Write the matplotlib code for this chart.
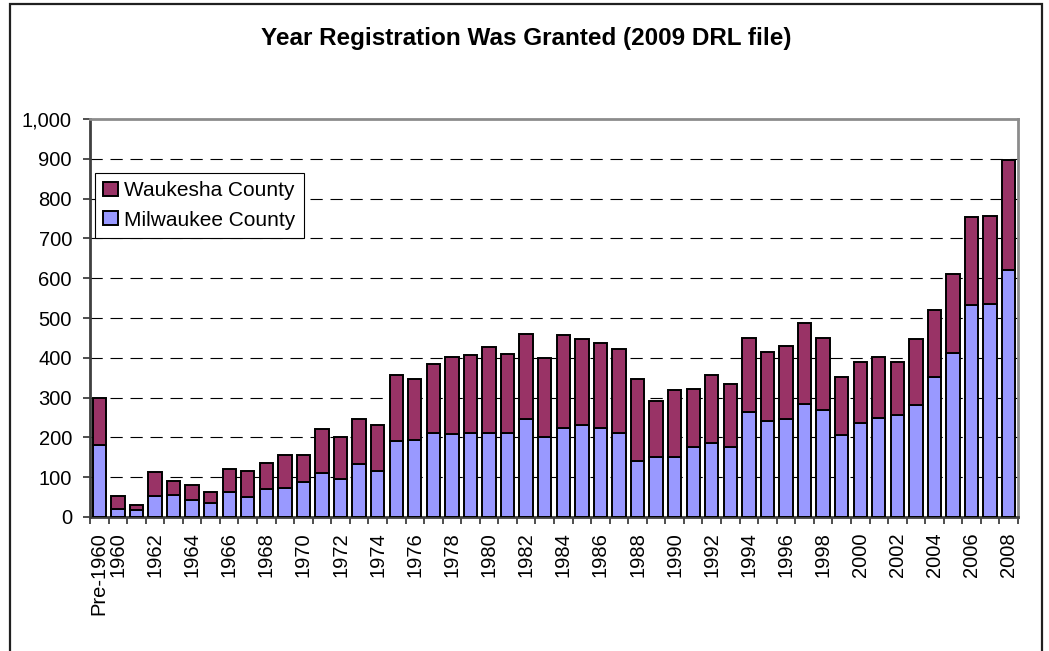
import matplotlib
matplotlib.use("Agg")
import matplotlib.pyplot as plt
from matplotlib.patches import Rectangle
from matplotlib.ticker import FuncFormatter
import numpy as np

plt.rcParams['font.family'] = ['Liberation Sans', 'DejaVu Sans']

categories = ["Pre-1960"] + [str(y) for y in range(1960, 2009)]
milwaukee = [180, 20, 17, 54, 56, 42, 35, 62, 50, 71, 74, 88, 110, 95, 134, 115,
             191, 193, 210, 208, 210, 212, 210, 247, 201, 223, 230, 223, 212, 141,
             150, 152, 175, 185, 175, 265, 240, 245, 284, 269, 206, 236, 250, 256,
             282, 353, 412, 533, 535, 620]
waukesha = [120, 32, 12, 59, 35, 39, 28, 58, 66, 64, 82, 68, 111, 107, 112, 117,
            165, 154, 175, 193, 197, 216, 200, 213, 198, 235, 216, 214, 211, 206,
            141, 168, 146, 171, 159, 186, 175, 184, 203, 182, 146, 154, 151, 134,
            166, 167, 198, 220, 221, 277]
series_names = ["Milwaukee County", "Waukesha County"]
title = "Year Registration Was Granted (2009 DRL file)"
y_ticks = list(range(0, 1001, 100))

W, H = 1049, 651
fig = plt.figure(figsize=(W / 100, H / 100), dpi=100)
ax = fig.add_axes([90 / W, 1 - 517 / H, (1018 - 90) / W, (517 - 119) / H])

x = np.arange(len(categories))
bw = 0.72
b1 = ax.bar(x, milwaukee, bw, color='#9999FF', edgecolor='black', linewidth=1.4,
            label=series_names[0], zorder=3)
b2 = ax.bar(x, waukesha, bw, bottom=milwaukee, color='#993366', edgecolor='black',
            linewidth=1.4, label=series_names[1], zorder=3)

ax.set_xlim(-0.5, len(categories) - 0.5)
ax.set_ylim(0, 1000)
ax.set_yticks(y_ticks)
ax.yaxis.set_major_formatter(FuncFormatter(lambda v, p: f"{int(v):,}"))
for v in y_ticks[1:-1]:
    ax.axhline(v, color='black', lw=0.8, linestyle=(0, (11, 7)), zorder=1)

# x ticks: marks at category boundaries, labels at centres
ax.set_xticks(np.arange(-0.5, len(categories), 1.0))
ax.set_xticklabels([])
lab_pos = [i for i in range(len(categories)) if i == 0 or i % 2 == 1]
ax.set_xticks(lab_pos, minor=True)
ax.set_xticklabels([categories[i] for i in lab_pos], minor=True, rotation=90,
                   fontsize=14.5, va='top', ha='center')
ax.tick_params(axis='x', which='major', length=5, width=1.2, color='#303030', direction='out')
ax.tick_params(axis='x', which='minor', length=0, pad=11)
ax.tick_params(axis='y', which='major', length=5, width=1.2, color='#303030',
               direction='out', labelsize=14.5, pad=8)

ax.spines['left'].set_color('#404040')
ax.spines['bottom'].set_color('#404040')
ax.spines['top'].set_color('#8C8C8C')
ax.spines['right'].set_color('#8C8C8C')
for s in ax.spines.values():
    s.set_linewidth(2)

fig.text(0.5015, 1 - 39 / H, title, ha='center', va='center', fontsize=17.5, fontweight='bold')

leg = ax.legend(handles=[b2, b1], labels=[series_names[1], series_names[0]],
                loc='upper left', bbox_to_anchor=(95 / W, 1 - 173 / H),
                bbox_transform=fig.transFigure, fontsize=15, frameon=True, fancybox=False,
                framealpha=1, edgecolor='black', handlelength=0.7, handleheight=0.65,
                handletextpad=0.3, labelspacing=0.5, borderpad=0.4, borderaxespad=0)
leg.get_frame().set_linewidth(0.8)
leg.set_zorder(5)

fig.patches.append(Rectangle((10 / W, -0.1), (1042 - 10) / W, 1 - 4 / H + 0.1,
                             transform=fig.transFigure, fill=False, edgecolor='#202020',
                             linewidth=1.6))

fig.savefig('out.png', dpi=100)
